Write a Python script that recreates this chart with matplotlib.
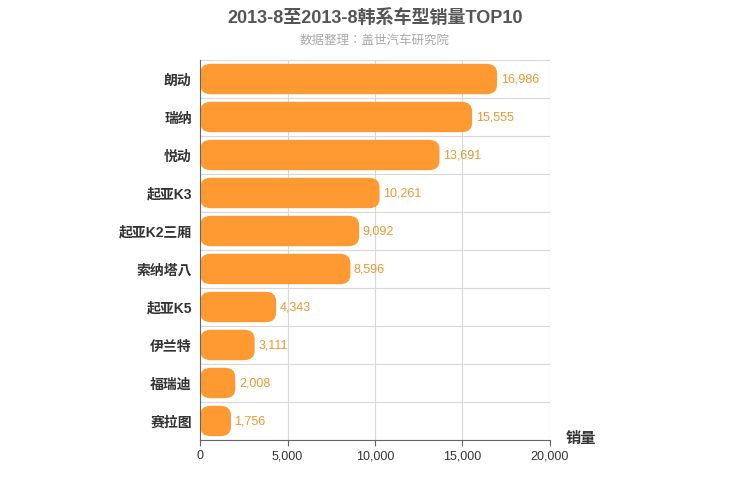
import matplotlib
matplotlib.use('Agg')
import matplotlib.pyplot as plt
from matplotlib import font_manager
from matplotlib.patches import FancyBboxPatch

# pick a sans CJK font that is actually registered
cjk = sorted({f.name for f in font_manager.fontManager.ttflist if 'Sans CJK' in f.name})
sc = [c for c in cjk if c.endswith('SC')]
plt.rcParams['font.family'] = ['Liberation Sans'] + (sc or cjk)[:1] + ['DejaVu Sans']

models = ['朗动', '瑞纳', '悦动', '起亚K3', '起亚K2三厢', '索纳塔八', '起亚K5', '伊兰特', '福瑞迪', '赛拉图']
sales = [16986, 15555, 13691, 10261, 9092, 8596, 4343, 3111, 2008, 1756]
xticks = [0, 5000, 10000, 15000, 20000]

fig = plt.figure(figsize=(7.5, 5), dpi=100)
ax = fig.add_axes([0.267, 0.12, 0.466, 0.76])
n = len(models)
ax.set_xlim(0, 20000)
ax.set_ylim(n - 0.5, -0.5)

for x in xticks[1:]:
    ax.axvline(x, color='#d8d8d8', lw=0.8, zorder=0)
for i in range(n + 1):
    ax.axhline(i - 0.5, color='#d8d8d8', lw=0.8, zorder=0)

h = 0.8
for i, v in enumerate(sales):
    p = FancyBboxPatch((0, i - h / 2), v, h, fc='#ff9a33', ec='none', zorder=2)
    p.set_boxstyle('round', pad=0, rounding_size=600)
    p.set_mutation_aspect(0.25 / 600)
    ax.add_patch(p)
    ax.text(v + 200, i, f'{v:,}', va='center', ha='left', fontsize=9,
            color='#f0962e', zorder=3)

ax.set_yticks(range(n))
ax.set_yticklabels(models, fontsize=10, fontweight='bold', color='#333333')
ax.set_xticks(xticks)
ax.set_xticklabels([f'{x:,}' for x in xticks], fontsize=9, color='#333333')
ax.tick_params(axis='y', length=0, pad=6)
ax.tick_params(axis='x', length=4, color='#666666')
for s in ['top', 'right']:
    ax.spines[s].set_visible(False)
ax.spines['left'].set_color('#666666')
ax.spines['bottom'].set_color('#666666')

fig.text(0.5, 0.965, '2013-8至2013-8韩系车型销量TOP10', ha='center', va='center',
         fontsize=13, fontweight='bold', color='#555555')
fig.text(0.5, 0.918, '数据整理：盖世汽车研究院', ha='center', va='center',
         fontsize=9, color='#aaaaaa')
fig.text(0.775, 0.122, '销量', ha='center', va='center', fontsize=11,
         fontweight='bold', color='#333333')

fig.savefig('out.png', dpi=100)
